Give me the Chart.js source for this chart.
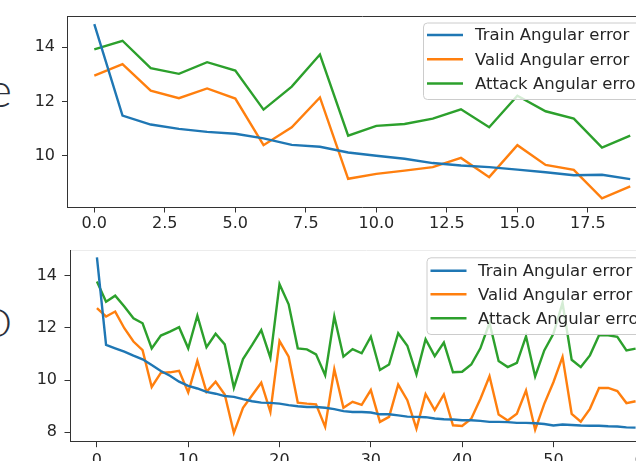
<!DOCTYPE html>
<html><head><meta charset="utf-8">
<script src="https://cdn.jsdelivr.net/npm/chart.js@4.4.0/dist/chart.umd.min.js"></script>
<style>
html,body{margin:0;padding:0;background:#fff;}
body{width:636px;height:461px;overflow:hidden;position:relative;}
#c1{position:absolute;left:0;top:0;}
#c2{position:absolute;left:0;top:230px;}
.side{position:absolute;font-family:Lato,"Open Sans",sans-serif;font-weight:300;color:#2b303b;white-space:nowrap;line-height:1;}
#s1{right:624px;top:65px;font-size:48px;}
#s2{right:624px;top:302px;font-size:40px;}
</style></head><body>
<div class="side" id="s1">e</div>
<div class="side" id="s2">D</div>
<canvas id="c1" width="700" height="232"></canvas>
<canvas id="c2" width="700" height="231"></canvas>
<script>
// ---------- data ----------
const seriesNames = ["Train Angular error", "Valid Angular error", "Attack Angular error"];
const seriesColors = ["#1f77b4", "#ff7f0e", "#2ca02c"];

// top panel (20 epochs)
const topTrain  = [14.85,11.48,11.15,10.99,10.88,10.81,10.64,10.40,10.33,10.12,10.00,9.89,9.73,9.64,9.58,9.49,9.39,9.28,9.30,9.14];
const topValid  = [12.95,13.38,12.40,12.12,12.48,12.11,10.39,11.05,12.15,9.15,9.33,9.45,9.58,9.92,9.21,10.39,9.66,9.48,8.43,8.87];
const topAttack = [13.92,14.24,13.23,13.02,13.45,13.14,11.70,12.55,13.73,10.74,11.10,11.17,11.37,11.71,11.05,12.21,11.64,11.37,10.30,10.74];
const topXTicks = [0, 2.5, 5, 7.5, 10, 12.5, 15, 17.5, 20];
const topYTicks = [10, 12, 14];

// bottom panel (60 epochs)
const botTrain = [14.71,11.35,11.22,11.09,10.94,10.80,10.58,10.35,10.17,9.94,9.78,9.68,9.55,9.48,9.39,9.36,9.27,9.19,9.14,9.13,
  9.10,9.04,9.00,8.97,8.97,8.94,8.89,8.81,8.78,8.78,8.76,8.69,8.69,8.65,8.60,8.59,8.58,8.53,8.50,8.49,
  8.46,8.46,8.44,8.40,8.40,8.39,8.36,8.36,8.35,8.32,8.26,8.30,8.28,8.26,8.25,8.25,8.23,8.22,8.19,8.18];
const botValid = [12.76,12.44,12.63,11.99,11.48,11.15,9.74,10.28,10.30,10.36,9.53,10.74,9.55,9.94,9.45,7.98,8.94,9.42,9.90,8.78,
  11.50,10.90,9.14,9.10,9.07,8.21,10.42,8.94,9.17,9.05,9.62,8.40,8.59,9.83,9.23,8.14,9.46,8.85,9.45,8.27,
  8.24,8.52,9.28,10.15,8.68,8.45,8.71,9.60,8.10,9.09,9.92,10.89,8.71,8.41,8.90,9.70,9.70,9.58,9.12,9.19];
const botAttack = [13.78,13.01,13.24,12.82,12.37,12.18,11.22,11.71,11.86,12.03,11.22,12.47,11.26,11.78,11.37,9.71,10.81,11.35,11.92,10.86,
  13.68,12.91,11.22,11.18,10.99,10.19,12.44,10.90,11.19,11.03,11.67,10.39,10.60,11.80,11.32,10.22,11.57,10.92,11.44,10.30,
  10.32,10.60,11.22,12.20,10.73,10.50,10.66,11.68,10.14,11.14,11.78,12.96,10.78,10.50,10.95,11.72,11.72,11.66,11.14,11.21];
const botXTicks = [0, 10, 20, 30, 40, 50, 60];
const botYTicks = [8, 10, 12, 14];

// ---------- helpers ----------
Chart.defaults.font.family = "'DejaVu Sans', sans-serif";
const FONT = {family: "'DejaVu Sans', sans-serif", size: 16};
const TXT = '#262626';
const SPINE = '#333333';

const mplLegend = {
  id: 'mplLegend',
  afterDatasetsDraw(chart, args, o) {
    const ctx = chart.ctx;
    ctx.save();
    ctx.beginPath();
    ctx.roundRect(o.boxX + 0.5, o.boxY + 0.5, o.boxW, o.boxH, 4);
    ctx.fillStyle = 'rgba(255,255,255,0.8)';
    ctx.fill();
    ctx.lineWidth = 1;
    ctx.strokeStyle = '#cccccc';
    ctx.stroke();
    ctx.font = "16.5px 'DejaVu Sans', sans-serif";
    ctx.textBaseline = 'middle';
    ctx.textAlign = 'left';
    chart.data.datasets.forEach((ds, i) => {
      const y = o.rowY[i];
      ctx.beginPath();
      ctx.moveTo(o.h1, y); ctx.lineTo(o.h2, y);
      ctx.strokeStyle = ds.borderColor; ctx.lineWidth = 2.4;
      ctx.stroke();
      ctx.fillStyle = TXT;
      ctx.fillText(ds.label, o.tx, y + 1);
    });
    ctx.restore();
  }
};

function makeDatasets(vals) {
  return vals.map((arr, k) => ({
    label: seriesNames[k],
    data: arr.map((v, i) => ({x: i, y: v})),
    borderColor: seriesColors[k],
    backgroundColor: seriesColors[k],
    borderWidth: 2.4,
    pointRadius: 0,
    tension: 0,
    fill: false
  }));
}

function makeChart(id, o) {
  return new Chart(document.getElementById(id), {
    type: 'line',
    data: {datasets: makeDatasets(o.vals)},
    plugins: [mplLegend],
    options: {
      responsive: false, animation: false, devicePixelRatio: 1, events: [],
      layout: {padding: o.pad},
      plugins: {legend: {display: false}, tooltip: {enabled: false}, mplLegend: o.legend},
      scales: {
        x: {
          type: 'linear', position: 'bottom', min: o.xmin, max: o.xmax,
          afterBuildTicks: s => { s.ticks = o.xticks.map(v => ({value: v})); },
          afterFit: s => { s.height = o.xh; },
          ticks: {callback: o.xfmt, font: FONT, color: TXT, padding: o.xpad, maxRotation: 0, autoSkip: false},
          grid: {display: true, drawOnChartArea: false, drawTicks: true, tickLength: 5.5, color: SPINE, lineWidth: 1},
          border: {display: true, color: SPINE, width: 1}
        },
        x2: {
          type: 'linear', position: 'top', min: o.xmin, max: o.xmax,
          afterFit: s => { s.height = 0; },
          ticks: {display: false}, grid: {display: false},
          border: {display: true, color: o.topSpine, width: 1}
        },
        y: {
          type: 'linear', position: 'left', min: o.ymin, max: o.ymax,
          afterBuildTicks: s => { s.ticks = o.yticks.map(v => ({value: v})); },
          afterFit: s => { s.width = o.yw; },
          ticks: {font: FONT, color: TXT, padding: o.ypad},
          grid: {display: true, drawOnChartArea: false, drawTicks: true, tickLength: 5.5, color: SPINE, lineWidth: 1},
          border: {display: true, color: SPINE, width: 1}
        }
      }
    }
  });
}

makeChart('c1', {
  vals: [topTrain, topValid, topAttack],
  pad: {left: 0, top: 14, right: 43, bottom: 0},
  xmin: -0.95, xmax: 19.95, xticks: topXTicks, xfmt: v => Number(v).toFixed(1), xh: 25, xpad: 2,
  ymin: 8.11, ymax: 15.13, yticks: topYTicks, yw: 67.5, ypad: 7,
  topSpine: SPINE,
  legend: {boxX: 423, boxY: 22.5, boxW: 300, boxH: 76.5, rowY: [35, 59.3, 83.5], h1: 427, h2: 463, tx: 475}
});

makeChart('c2', {
  vals: [botTrain, botValid, botAttack],
  pad: {left: 0, top: 20, right: 37.5, bottom: 0},
  xmin: -2.95, xmax: 61.95, xticks: botXTicks, xfmt: v => String(v), xh: 19.3, xpad: 4,
  ymin: 7.64, ymax: 14.99, yticks: botYTicks, yw: 70, ypad: 7.5,
  topSpine: '#ececec',
  legend: {boxX: 426.5, boxY: 27.3, boxW: 300, boxH: 76.7, rowY: [40.7, 64.3, 88.3], h1: 430.5, h2: 466.5, tx: 478}
});
</script>
</body></html>
